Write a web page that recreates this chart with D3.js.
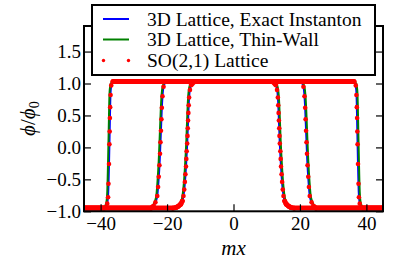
<!DOCTYPE html>
<html>
<head>
<meta charset="utf-8">
<script src="https://cdn.jsdelivr.net/npm/d3@7"></script>
<style>
  body { margin: 0; background: #fff; }
  text { font-family: "Liberation Serif", serif; fill: #000; }
</style>
</head>
<body>
<div id="chart"></div>
<script>
// tick values
var xTicks = [-40, -20, 0, 20, 40];
var yTicks = [-1.0, -0.5, 0.0, 0.5, 1.0, 1.5];

// 3D lattice, exact instanton (blue) - outer, middle, inner bubble
var exactOuterX = [-45, -38.9, -38.4, -38.0, -37.7, -37.45, -37.25, -37.1, -36.95, -36.6, -36.0, 36.0, 36.6, 36.95, 37.1, 37.25, 37.45, 37.7, 38.0, 38.4, 38.9, 45];
var outerPhi    = [-0.95, -0.95, -0.92, -0.87, -0.7, -0.2, 0.3, 0.7, 0.9, 1.0, 1.03, 1.03, 1.0, 0.9, 0.7, 0.3, -0.2, -0.7, -0.87, -0.92, -0.95, -0.95];
var exactMidX = [-45, -24.8, -24.0, -23.4, -22.9, -22.6, -22.2, -21.85, -21.6, -21.35, -21.0, -20.4, -19.6, 19.6, 20.4, 21.0, 21.35, 21.6, 21.85, 22.2, 22.6, 22.9, 23.4, 24.0, 24.8, 45];
var midPhi    = [-0.95, -0.95, -0.91, -0.85, -0.74, -0.55, -0.2, 0.25, 0.58, 0.82, 0.96, 1.02, 1.03, 1.03, 1.02, 0.96, 0.82, 0.58, 0.25, -0.2, -0.55, -0.74, -0.85, -0.91, -0.95, -0.95];
var exactInnerX = [-45, -19.0, -17.5, -16.3, -15.4, -14.8, -14.3, -13.9, -13.65, -13.4, -13.05, -12.4, -11.2, 11.2, 12.4, 13.05, 13.4, 13.65, 13.9, 14.3, 14.8, 15.4, 16.3, 17.5, 19.0, 45];
var innerPhi    = [-0.95, -0.95, -0.94, -0.91, -0.84, -0.65, -0.3, 0.1, 0.45, 0.75, 0.93, 1.01, 1.03, 1.03, 1.01, 0.93, 0.75, 0.45, 0.1, -0.3, -0.65, -0.84, -0.91, -0.94, -0.95, -0.95];

// 3D lattice, thin-wall (green), same phi levels
var thinOuterX = [-45, -39.2, -38.7, -38.3, -38.0, -37.75, -37.55, -37.4, -37.25, -36.9, -36.3, 36.3, 36.9, 37.25, 37.4, 37.55, 37.75, 38.0, 38.3, 38.7, 39.2, 45];
var thinMidX = [-45, -25.1, -24.3, -23.7, -23.2, -22.9, -22.5, -22.15, -21.9, -21.65, -21.3, -20.7, -19.9, 19.9, 20.7, 21.3, 21.65, 21.9, 22.15, 22.5, 22.9, 23.2, 23.7, 24.3, 25.1, 45];
var thinInnerX = [-45, -19.3, -17.8, -16.6, -15.7, -15.1, -14.6, -14.2, -13.95, -13.7, -13.35, -12.7, -11.5, 11.5, 12.7, 13.35, 13.7, 13.95, 14.2, 14.6, 15.1, 15.7, 16.6, 17.8, 19.3, 45];

// SO(2,1) lattice (red points)
var soOuterX   = [-45, -38.9, -38.0, -37.75, -37.63, -37.48, -37.35, -37.27, -37.2, -37.12, -37.0, -36.8, -36.3, 36.3, 36.8, 37.0, 37.12, 37.2, 37.27, 37.35, 37.48, 37.63, 37.75, 38.0, 38.9, 45];
var soOuterPhi = [-0.95, -0.95, -0.88, -0.78, -0.57, -0.26, 0.05, 0.25, 0.46, 0.63, 0.82, 0.97, 1.03, 1.03, 0.97, 0.82, 0.63, 0.46, 0.25, 0.05, -0.26, -0.57, -0.78, -0.88, -0.95, -0.95];
var soMidX   = [-45, -24.8, -24.1, -23.5, -22.95, -22.7, -22.5, -22.29, -22.12, -21.98, -21.84, -21.7, -21.57, -21.37, -21.05, -20.4, 20.4, 21.05, 21.37, 21.57, 21.7, 21.84, 21.98, 22.12, 22.29, 22.5, 22.7, 22.95, 23.5, 24.1, 24.8, 45];
var soMidPhi = [-0.95, -0.95, -0.92, -0.86, -0.76, -0.62, -0.46, -0.28, -0.1, 0.08, 0.26, 0.44, 0.62, 0.8, 0.95, 1.03, 1.03, 0.95, 0.8, 0.62, 0.44, 0.26, 0.08, -0.1, -0.28, -0.46, -0.62, -0.76, -0.86, -0.92, -0.95, -0.95];
var soInnerX   = [-45, -18.2, -17.3, -16.6, -15.9, -15.4, -15.05, -14.82, -14.64, -14.47, -14.3, -14.2, -14.1, -13.94, -13.84, -13.76, -13.67, -13.58, -13.47, -13.35, -13.1, -12.7, -11.8, 11.8, 12.7, 13.1, 13.35, 13.47, 13.58, 13.67, 13.76, 13.84, 13.94, 14.1, 14.2, 14.3, 14.47, 14.64, 14.82, 15.05, 15.4, 15.9, 16.6, 17.3, 18.2, 45];
var soInnerPhi = [-0.95, -0.95, -0.94, -0.92, -0.89, -0.84, -0.76, -0.66, -0.54, -0.42, -0.3, -0.18, -0.06, 0.06, 0.18, 0.3, 0.42, 0.54, 0.66, 0.78, 0.9, 0.98, 1.03, 1.03, 0.98, 0.9, 0.78, 0.66, 0.54, 0.42, 0.3, 0.18, 0.06, -0.06, -0.18, -0.3, -0.42, -0.54, -0.66, -0.76, -0.84, -0.89, -0.92, -0.94, -0.95, -0.95];

var legendLabels = ["3D Lattice, Exact Instanton", "3D Lattice, Thin-Wall", "SO(2,1) Lattice"];

var W = 399, H = 268,
    padL = 84, padR = 383, padT = 26, padB = 211.3;

var svg = d3.select("#chart").append("svg")
    .attr("width", W).attr("height", H);

var x = d3.scaleLinear().domain([-45, 45]).range([padL, padR]);
var y = d3.scaleLinear().domain([-1, 1.9]).range([padB, padT]);

function zip(xs, ys) { return xs.map(function(v, i) { return [v, ys[i]]; }); }

svg.append("clipPath").attr("id", "clip")
  .append("rect").attr("x", padL).attr("y", padT)
  .attr("width", padR - padL).attr("height", padB - padT);

var plot = svg.append("g").attr("clip-path", "url(#clip)");

var line = d3.line()
    .x(function(d) { return x(d[0]); })
    .y(function(d) { return y(d[1]); })
    .curve(d3.curveMonotoneX);

// blue then green lines
[[exactOuterX, outerPhi], [exactMidX, midPhi], [exactInnerX, innerPhi]].forEach(function(s) {
  plot.append("path").datum(zip(s[0], s[1]))
    .attr("d", line).attr("fill", "none")
    .attr("stroke", "#0000ff").attr("stroke-width", 2);
});
[[thinOuterX, outerPhi], [thinMidX, midPhi], [thinInnerX, innerPhi]].forEach(function(s) {
  plot.append("path").datum(zip(s[0], s[1]))
    .attr("d", line).attr("fill", "none")
    .attr("stroke", "#008000").attr("stroke-width", 2);
});

// red points; on the flats the markers are so dense they merge into a band
[[soOuterX, soOuterPhi], [soMidX, soMidPhi], [soInnerX, soInnerPhi]].forEach(function(s) {
  var pts = zip(s[0], s[1]);
  for (var i = 1; i < pts.length; i++) {
    if (Math.abs(pts[i][1] - pts[i - 1][1]) < 0.06) {
      plot.append("line")
        .attr("x1", x(pts[i - 1][0])).attr("y1", y(pts[i - 1][1]))
        .attr("x2", x(pts[i][0])).attr("y2", y(pts[i][1]))
        .attr("stroke", "#ff0000").attr("stroke-width", 5)
        .attr("stroke-linecap", "round");
    }
  }
  plot.selectAll(null).data(pts).enter().append("circle")
    .attr("cx", function(d) { return x(d[0]); })
    .attr("cy", function(d) { return y(d[1]); })
    .attr("r", 2.3).attr("fill", "#ff0000");
});

// axes, ticks pointing inward
var fmtY = d3.format(".1f");
svg.append("g").attr("transform", "translate(0," + padB + ")")
  .call(d3.axisBottom(x).tickValues(xTicks).tickSize(-7).tickPadding(5).tickFormat(d3.format("d")))
  .call(function(g) {
    g.select(".domain").remove();
    g.selectAll("text").attr("font-size", 19).attr("font-family", "Liberation Serif");
  });
svg.append("g").attr("transform", "translate(0," + padT + ")")
  .call(d3.axisTop(x).tickValues(xTicks).tickSize(-7).tickFormat(""))
  .call(function(g) { g.select(".domain").remove(); });
svg.append("g").attr("transform", "translate(" + padL + ",0)")
  .call(d3.axisLeft(y).tickValues(yTicks).tickSize(-7).tickPadding(3).tickFormat(fmtY))
  .call(function(g) {
    g.select(".domain").remove();
    g.selectAll("text").attr("font-size", 19).attr("font-family", "Liberation Serif");
  });
svg.append("g").attr("transform", "translate(" + padR + ",0)")
  .call(d3.axisRight(y).tickValues(yTicks).tickSize(-7).tickFormat(""))
  .call(function(g) { g.select(".domain").remove(); });
svg.selectAll(".tick line").attr("stroke-width", 1.2);

svg.append("rect").attr("x", padL).attr("y", padT)
  .attr("width", padR - padL).attr("height", padB - padT)
  .attr("fill", "none").attr("stroke", "#000").attr("stroke-width", 2);

// axis labels
svg.append("text").attr("x", (padL + padR) / 2).attr("y", 255)
  .attr("text-anchor", "middle").attr("font-size", 21).attr("font-style", "italic")
  .text("mx");
svg.append("text")
  .attr("transform", "translate(35," + ((padT + padB) / 2) + ") rotate(-90)")
  .attr("text-anchor", "middle").attr("font-size", 21)
  .html('<tspan font-style="italic">ϕ</tspan>/<tspan font-style="italic">ϕ</tspan><tspan font-size="14" dy="4">0</tspan>');

// legend
var lg = svg.append("g");
lg.append("rect").attr("x", 92).attr("y", 5).attr("width", 283).attr("height", 70)
  .attr("fill", "#fff").attr("stroke", "#000").attr("stroke-width", 2);
var rowY = [19, 39.5, 60.5];
lg.append("line").attr("x1", 103).attr("x2", 129).attr("y1", rowY[0]).attr("y2", rowY[0])
  .attr("stroke", "#0000ff").attr("stroke-width", 2);
lg.append("line").attr("x1", 103).attr("x2", 129).attr("y1", rowY[1]).attr("y2", rowY[1])
  .attr("stroke", "#008000").attr("stroke-width", 2);
[103.5, 128.5].forEach(function(cx) {
  lg.append("circle").attr("cx", cx).attr("cy", rowY[2]).attr("r", 1.7).attr("fill", "#ff0000");
});
legendLabels.forEach(function(t, i) {
  lg.append("text").attr("x", 147).attr("y", rowY[i] + 6.5)
    .attr("font-size", 19.5).text(t);
});
</script>
</body>
</html>
